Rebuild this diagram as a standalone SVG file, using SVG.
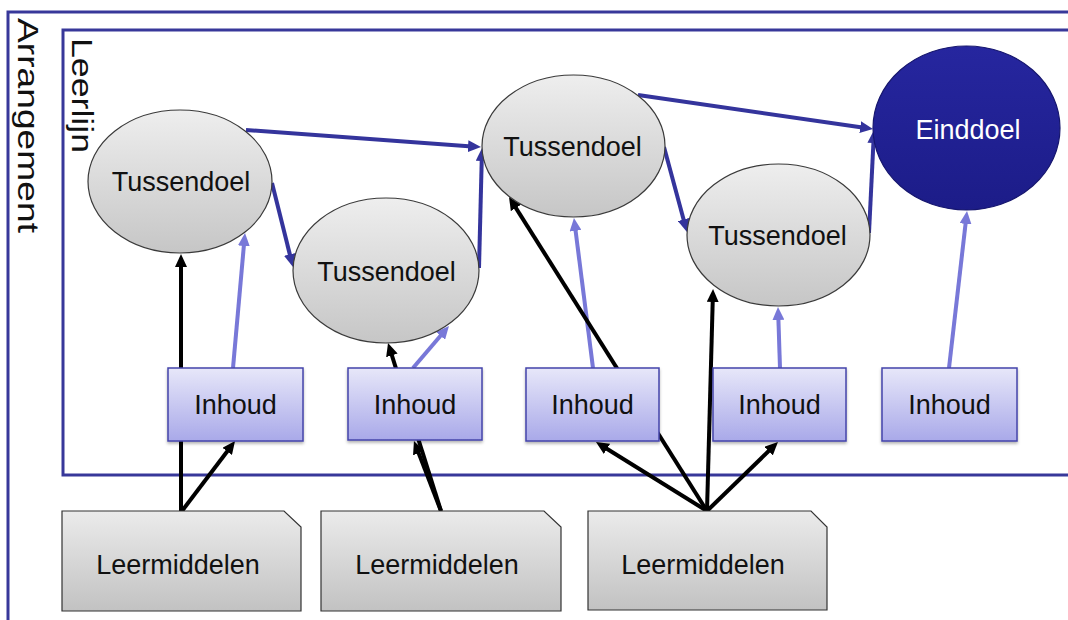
<svg xmlns="http://www.w3.org/2000/svg" width="1068" height="620" viewBox="0 0 1068 620">
<style>
.frame{fill:none;stroke:#38389a;stroke-width:3}
.lbl{font-family:"Liberation Sans",Arial,sans-serif;font-size:27px;fill:#111;text-anchor:middle}
.vlbl{font-family:"Liberation Sans",Arial,sans-serif;font-size:30px;fill:#111}
.goal{fill:url(#gGoal);stroke:#3a3a3a;stroke-width:1.2}
.end{fill:url(#gEnd);stroke:#16166e;stroke-width:1.2}
.inh{fill:url(#gInh);stroke:#4444aa;stroke-width:1.5;filter:url(#sh)}
.lm{fill:url(#gLm);stroke:#333;stroke-width:1.2}
.cd{fill:none;stroke:#34349c;stroke-width:4;marker-end:url(#aD)}
.cl{fill:none;stroke:#7878d8;stroke-width:4;marker-end:url(#aL)}
.ck{fill:none;stroke:#000;stroke-width:4;marker-end:url(#aK)}
</style>
<defs>
<linearGradient id="gGoal" x1="0" y1="0" x2="0" y2="1"><stop offset="0" stop-color="#eeeeee"/><stop offset="1" stop-color="#c6c6c6"/></linearGradient>
<linearGradient id="gEnd" x1="0" y1="0" x2="0" y2="1"><stop offset="0" stop-color="#26269f"/><stop offset="1" stop-color="#1c1c88"/></linearGradient>
<linearGradient id="gInh" x1="0" y1="0" x2="0" y2="1"><stop offset="0" stop-color="#e7e7f9"/><stop offset="1" stop-color="#a9a9e9"/></linearGradient>
<linearGradient id="gLm" x1="0" y1="0" x2="0" y2="1"><stop offset="0" stop-color="#ebebeb"/><stop offset="1" stop-color="#c2c2c2"/></linearGradient>
<filter id="sh" x="-10%" y="-10%" width="120%" height="130%"><feDropShadow dx="0" dy="2" stdDeviation="1.5" flood-color="#000" flood-opacity="0.3"/></filter>
<marker id="aD" markerUnits="userSpaceOnUse" markerWidth="14" markerHeight="12" refX="4" refY="6" orient="auto"><path d="M0,0 L13,6 L0,12 z" fill="#34349c"/></marker>
<marker id="aL" markerUnits="userSpaceOnUse" markerWidth="14" markerHeight="12" refX="4" refY="6" orient="auto"><path d="M0,0 L13,6 L0,12 z" fill="#7878d8"/></marker>
<marker id="aK" markerUnits="userSpaceOnUse" markerWidth="14" markerHeight="12" refX="4" refY="6" orient="auto"><path d="M0,0 L13,6 L0,12 z" fill="#000"/></marker>
</defs>
<rect width="1068" height="620" fill="#fff"/>
<g id="arrangement">
<rect class="frame" x="8" y="12" width="1080" height="630"/>
<text class="vlbl" transform="translate(18,18) rotate(90)" textLength="215" lengthAdjust="spacingAndGlyphs">Arrangement</text>
</g>
<g id="leerlijn">
<rect class="frame" x="63" y="30" width="1020" height="445"/>
<text class="vlbl" transform="translate(72,38) rotate(90)" textLength="115" lengthAdjust="spacingAndGlyphs">Leerlijn</text>
</g>
<g id="connectors">
<line class="cd" x1="246" y1="130" x2="472" y2="146.4"/>
<line class="cd" x1="272" y1="183" x2="290.8" y2="258.3"/>
<line class="cd" x1="479" y1="268" x2="481.8" y2="157"/>
<line class="cd" x1="638" y1="95" x2="864.1" y2="127.7"/>
<line class="cd" x1="664" y1="147" x2="684.6" y2="223.3"/>
<line class="cd" x1="869" y1="233" x2="873.6" y2="139"/>
<line class="cl" x1="233" y1="368" x2="244.2" y2="242"/>
<line class="cl" x1="413" y1="368" x2="443.1" y2="332.8"/>
<line class="cl" x1="593" y1="368" x2="575.1" y2="226.9"/>
<line class="cl" x1="780" y1="368" x2="778.3" y2="316"/>
<line class="cl" x1="949" y1="368" x2="966" y2="219.9"/>
<line class="ck" x1="181" y1="511" x2="181" y2="263"/>
<line class="ck" x1="182" y1="511" x2="229.6" y2="448.2"/>
<line class="ck" x1="441" y1="511" x2="417.2" y2="449.4"/>
<line class="ck" x1="441" y1="511" x2="390.7" y2="351.6"/>
<line class="ck" x1="707" y1="511" x2="603.6" y2="446.8"/>
<line class="ck" x1="707" y1="511" x2="513.8" y2="204.6"/>
<line class="ck" x1="707" y1="511" x2="712.8" y2="298"/>
<line class="ck" x1="707" y1="511" x2="771.5" y2="448.3"/>
</g>
<g id="tussendoel1"><ellipse class="goal" cx="180" cy="181.5" rx="92" ry="71.5"/><text class="lbl" x="181" y="191">Tussendoel</text></g>
<g id="tussendoel2"><ellipse class="goal" cx="386" cy="270.5" rx="93" ry="72.5"/><text class="lbl" x="386.5" y="281">Tussendoel</text></g>
<g id="tussendoel3"><ellipse class="goal" cx="573.5" cy="146" rx="91.5" ry="71"/><text class="lbl" x="572.5" y="156">Tussendoel</text></g>
<g id="tussendoel4"><ellipse class="goal" cx="778.5" cy="235" rx="91.5" ry="71"/><text class="lbl" x="777.5" y="245">Tussendoel</text></g>
<g id="einddoel"><ellipse class="end" cx="966.5" cy="128" rx="93.5" ry="82"/><text class="lbl" x="968" y="139" style="fill:#fff">Einddoel</text></g>
<g id="inhoud1"><rect class="inh" x="168" y="368" width="135" height="73"/><text class="lbl" x="235.5" y="414">Inhoud</text></g>
<g id="inhoud2"><rect class="inh" x="348" y="368" width="134" height="72"/><text class="lbl" x="415" y="414">Inhoud</text></g>
<g id="inhoud3"><rect class="inh" x="526" y="368" width="133" height="73"/><text class="lbl" x="592.5" y="414">Inhoud</text></g>
<g id="inhoud4"><rect class="inh" x="713" y="368" width="133" height="73"/><text class="lbl" x="779.5" y="414">Inhoud</text></g>
<g id="inhoud5"><rect class="inh" x="882" y="368" width="135" height="73"/><text class="lbl" x="949.5" y="414">Inhoud</text></g>
<g id="leermiddelen1"><path class="lm" d="M62,511 H284 L301,527 V611 H62 Z"/><text class="lbl" x="178" y="574">Leermiddelen</text></g>
<g id="leermiddelen2"><path class="lm" d="M321,511 H544 L561,527 V611 H321 Z"/><text class="lbl" x="437" y="574">Leermiddelen</text></g>
<g id="leermiddelen3"><path class="lm" d="M588,511 H811 L827,527 V610 H588 Z"/><text class="lbl" x="703" y="574">Leermiddelen</text></g>
</svg>
